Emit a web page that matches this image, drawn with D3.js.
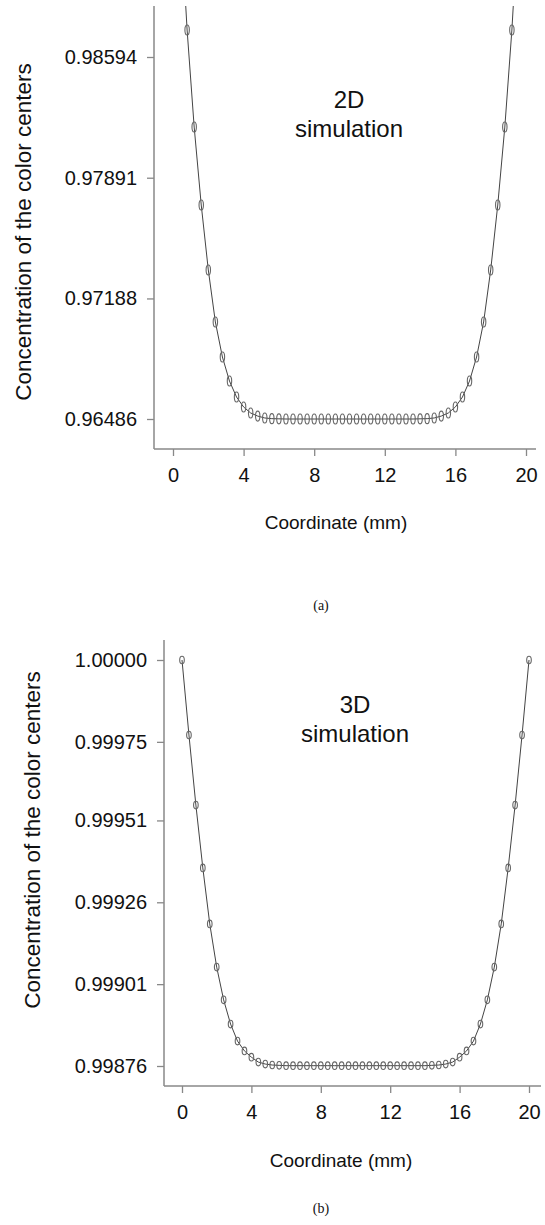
<!DOCTYPE html>
<html>
<head>
<meta charset="utf-8">
<script src="https://cdn.jsdelivr.net/npm/d3@7"></script>
<style>
  html, body { margin: 0; padding: 0; background: #fff; }
  svg { display: block; }
</style>
</head>
<body>
<svg id="chart" width="545" height="1225"></svg>
<script>
// ---------- data ----------
const coords = [0, 0.4, 0.8, 1.2, 1.6, 2.0, 2.4, 2.8, 3.2, 3.6, 4.0, 4.4, 4.8, 5.2, 5.6, 6.0,
  6.4, 6.8, 7.2, 7.6, 8.0, 8.4, 8.8, 9.2, 9.6, 10.0, 10.4, 10.8, 11.2, 11.6, 12.0, 12.4, 12.8, 13.2, 13.6,
  14.0, 14.4, 14.8, 15.2, 15.6, 16.0, 16.4, 16.8, 17.2, 17.6, 18.0, 18.4, 18.8, 19.2, 19.6, 20.0];

const conc2D = [1.00000, 0.99467, 0.98751, 0.98186, 0.97732, 0.97354, 0.97051, 0.96847, 0.96707, 0.96614,
  0.96556, 0.96521, 0.96503, 0.96492, 0.96488, 0.96487,
  0.96486, 0.96486, 0.96486, 0.96486, 0.96486, 0.96486, 0.96486, 0.96486, 0.96486, 0.96486,
  0.96486, 0.96486, 0.96486, 0.96486, 0.96486, 0.96486, 0.96486, 0.96486, 0.96486,
  0.96487, 0.96488, 0.96492, 0.96503, 0.96521, 0.96556, 0.96614, 0.96707, 0.96847, 0.97051,
  0.97354, 0.97732, 0.98186, 0.98751, 0.99467, 1.00000];

const conc3D = [1.000000, 0.999771, 0.999557, 0.999365, 0.999194, 0.999062, 0.998962, 0.998888, 0.998836, 0.998806,
  0.998787, 0.998772, 0.998766, 0.998763, 0.998762, 0.998761,
  0.998761, 0.998761, 0.998761, 0.998761, 0.998761, 0.998761, 0.998761, 0.998761, 0.998761, 0.998761,
  0.998761, 0.998761, 0.998761, 0.998761, 0.998761, 0.998761, 0.998761, 0.998761, 0.998761,
  0.998761, 0.998762, 0.998763, 0.998766, 0.998772, 0.998787, 0.998806, 0.998836, 0.998888, 0.998962,
  0.999062, 0.999194, 0.999365, 0.999557, 0.999771, 1.000000];

const xTicks = [0, 4, 8, 12, 16, 20];
const yTicks2D = [0.96486, 0.97188, 0.97891, 0.98594];
const yTicks3D = [0.99876, 0.99901, 0.99926, 0.99951, 0.99975, 1.00000];

const yTitle = "Concentration of the color centers";
const xTitle = "Coordinate (mm)";

// ---------- drawing ----------
const svg = d3.select("#chart");
const SANS = "'Liberation Sans', Arial, Helvetica, sans-serif";
const SERIF = "'Liberation Serif', 'Times New Roman', serif";

function panel(cfg) {
  const g = svg.append("g");
  const x = d3.scaleLinear().domain([0, 20]).range(cfg.xRange);
  const y = d3.scaleLinear().domain(cfg.yDomain).range(cfg.yRange);

  const clipId = "clip" + cfg.id;
  svg.append("clipPath").attr("id", clipId).append("rect")
    .attr("x", cfg.axisX).attr("y", cfg.axisTop)
    .attr("width", 545 - cfg.axisX).attr("height", cfg.axisY - cfg.axisTop);

  // y axis
  const yAxis = d3.axisLeft(y).tickValues(cfg.yTicks).tickSize(7).tickPadding(10)
    .tickFormat(d => d.toFixed(5));
  const ya = g.append("g").attr("transform", `translate(${cfg.axisX},0)`).call(yAxis);
  ya.select(".domain").remove();
  ya.selectAll(".tick line").attr("stroke", "#888").attr("stroke-width", 1.3);
  ya.selectAll(".tick text").attr("font-family", SANS).attr("font-size", 20).attr("fill", "#111");
  g.append("line").attr("x1", cfg.axisX).attr("x2", cfg.axisX)
    .attr("y1", cfg.axisTop).attr("y2", cfg.axisY)
    .attr("stroke", "#888").attr("stroke-width", 1.5);

  // x axis
  const xAxis = d3.axisBottom(x).tickValues(xTicks).tickSize(7).tickPadding(12)
    .tickFormat(d3.format("d"));
  const xa = g.append("g").attr("transform", `translate(0,${cfg.axisY})`).call(xAxis);
  xa.select(".domain").remove();
  xa.selectAll(".tick line").attr("stroke", "#888").attr("stroke-width", 1.3);
  xa.selectAll(".tick text").attr("font-family", SANS).attr("font-size", 20).attr("fill", "#111");
  g.append("line").attr("x1", cfg.axisX).attr("x2", cfg.axisRight)
    .attr("y1", cfg.axisY).attr("y2", cfg.axisY)
    .attr("stroke", "#888").attr("stroke-width", 1.5);

  // data
  const pts = coords.map((c, i) => [c, cfg.values[i]]);
  const dg = g.append("g").attr("clip-path", `url(#${clipId})`);
  dg.append("path").datum(pts)
    .attr("d", d3.line().x(d => x(d[0])).y(d => y(d[1])))
    .attr("fill", "none").attr("stroke", "#444").attr("stroke-width", 1);
  dg.selectAll("ellipse").data(pts).join("ellipse")
    .attr("cx", d => x(d[0])).attr("cy", d => y(d[1]))
    .attr("rx", cfg.rx).attr("ry", cfg.ry)
    .attr("fill", "none").attr("stroke", "#666").attr("stroke-width", 1.1);

  // titles
  g.append("text").attr("transform", `translate(${cfg.yTitleX},${cfg.yTitleY}) rotate(-90)`)
    .attr("text-anchor", "middle").attr("font-family", SANS).attr("font-size", 22.5)
    .attr("fill", "#111").text(yTitle);
  g.append("text").attr("x", cfg.xTitleX).attr("y", cfg.xTitleY)
    .attr("text-anchor", "middle").attr("font-family", SANS).attr("font-size", 19)
    .attr("fill", "#111").text(xTitle);

  // annotation
  cfg.note.forEach((t, i) => {
    g.append("text").attr("x", cfg.noteX).attr("y", cfg.noteY + i * 29)
      .attr("text-anchor", "middle").attr("font-family", SANS).attr("font-size", 24)
      .attr("fill", "#111").text(t);
  });

  // caption
  g.append("text").attr("x", cfg.capX).attr("y", cfg.capY)
    .attr("text-anchor", "middle").attr("font-family", SERIF).attr("font-size", 14)
    .attr("fill", "#111").text(cfg.caption);
}

panel({
  id: "a", values: conc2D, yTicks: yTicks2D,
  xRange: [173, 526], yDomain: [0.96486, 0.98594], yRange: [419, 57],
  axisX: 154, axisTop: 6, axisY: 449, axisRight: 536,
  rx: 2.2, ry: 5,
  yTitleX: 31, yTitleY: 232, xTitleX: 336, xTitleY: 529,
  note: ["2D", "simulation"], noteX: 349, noteY: 108,
  caption: "(a)", capX: 321, capY: 610
});

panel({
  id: "b", values: conc3D, yTicks: yTicks3D,
  xRange: [182, 529], yDomain: [0.99876, 1.00000], yRange: [1066, 660],
  axisX: 164, axisTop: 640, axisY: 1086, axisRight: 541,
  rx: 2.3, ry: 3.8,
  yTitleX: 40, yTitleY: 840, xTitleX: 341, xTitleY: 1167,
  note: ["3D", "simulation"], noteX: 355, noteY: 713,
  caption: "(b)", capX: 321, capY: 1213
});
</script>
</body>
</html>
